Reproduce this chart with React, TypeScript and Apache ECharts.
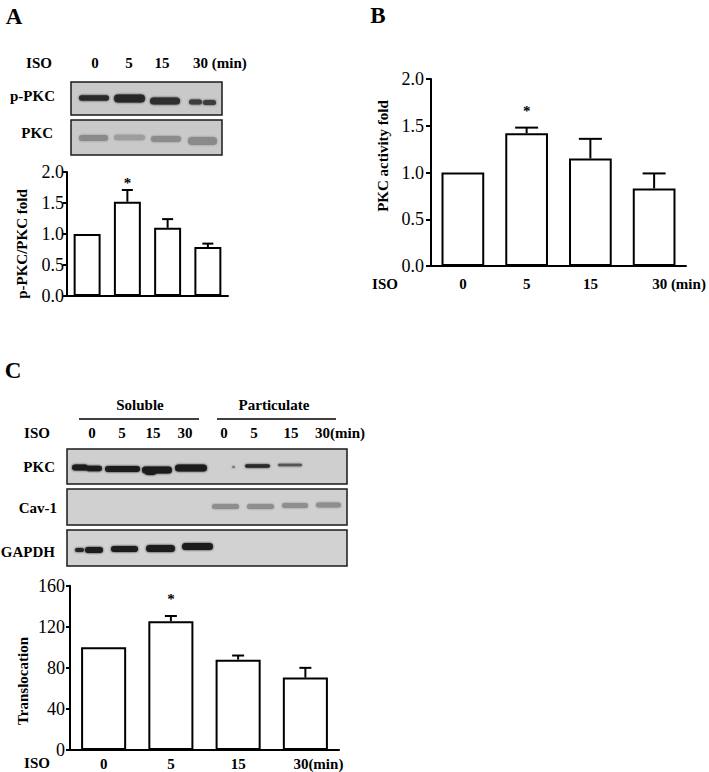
import React, { useEffect, useRef } from "react";
import * as echarts from "echarts";

// ---------- data ----------
const timeCategories = ["0", "5", "15", "30"];
const unitSuffix = "(min)";
const isoLabel = "ISO";

const pPkcRatioMean = [1.0, 1.52, 1.1, 0.79];
const pPkcRatioSem = [0, 0.19, 0.14, 0.055];

const pkcActivityMean = [1.0, 1.42, 1.15, 0.83];
const pkcActivitySem = [0, 0.06, 0.21, 0.16];

const translocationMean = [100, 125.5, 88, 70.5];
const translocationSem = [0, 5, 4, 9.5];

const significant = [false, true, false, false];

const foldAxis = { min: 0, max: 2, interval: 0.5, decimals: 1 };
const translocationAxis = { min: 0, max: 160, interval: 40, decimals: 0 };

const fractionLabels = ["Soluble", "Particulate"];
const blotRowsA = ["p-PKC", "PKC"];
const blotRowsC = ["PKC", "Cav-1", "GAPDH"];
const yTitles = ["p-PKC/PKC fold", "PKC activity fold", "Translocation"];
const panelLetters = ["A", "B", "C"];

// ---------- styling ----------
const SERIF = "'Liberation Serif', serif";
const boldFont = (s: number) => `bold ${s}px ${SERIF}`;

function txt(text: string, x: number, y: number, size = 15, align = "center", bold = true, rotation = 0) {
  return {
    type: "text",
    x,
    y,
    rotation,
    silent: true,
    style: {
      text,
      x: 0,
      y: 0,
      align,
      verticalAlign: "middle",
      font: bold ? boldFont(size) : `${size}px ${SERIF}`,
      fill: "#000",
    },
  };
}

function box(x: number, y: number, w: number, h: number, fill: string) {
  return {
    type: "rect",
    silent: true,
    shape: { x, y, width: w, height: h },
    style: { fill, stroke: "#1a1a1a", lineWidth: 1.5 },
  };
}

function band(x1: number, x2: number, yc: number, h: number, color: string) {
  return {
    type: "rect",
    silent: true,
    shape: { x: x1, y: yc - h / 2, width: x2 - x1, height: h, r: h / 2 },
    style: { fill: color, shadowBlur: 2, shadowColor: color },
  };
}

function hline(x1: number, x2: number, y: number) {
  return {
    type: "line",
    silent: true,
    shape: { x1, y1: y, x2, y2: y },
    style: { stroke: "#000", lineWidth: 1.5 },
  };
}

function makeErrRenderer(capHalf: number, starGap: number) {
  return (params: any, api: any) => {
    const idx = api.value(0);
    const m = api.value(1);
    const e = api.value(2);
    const s = api.value(3);
    const base = api.coord([idx, m]);
    const top = api.coord([idx, m + e]);
    const ls = { stroke: "#000", lineWidth: 2 };
    const children: any[] = [];
    if (e > 0) {
      children.push({ type: "line", shape: { x1: base[0], y1: base[1], x2: base[0], y2: top[1] }, style: ls });
      children.push({ type: "line", shape: { x1: base[0] - capHalf, y1: top[1], x2: base[0] + capHalf, y2: top[1] }, style: ls });
    }
    if (s) {
      children.push({
        type: "text",
        style: { text: "*", x: base[0], y: top[1] - starGap + 3, align: "center", verticalAlign: "middle", font: boldFont(15), fill: "#000" },
      });
    }
    return { type: "group", children };
  };
}

function yAxisCfg(gridIndex: number, ax: any, margin: number, tickLen: number, fontSize: number) {
  return {
    type: "value",
    gridIndex,
    min: ax.min,
    max: ax.max,
    interval: ax.interval,
    axisLine: { show: true, lineStyle: { color: "#000", width: 2 } },
    axisTick: { show: true, length: tickLen, lineStyle: { color: "#000", width: 2 } },
    splitLine: { show: false },
    axisLabel: {
      margin,
      color: "#000",
      fontFamily: "Liberation Serif",
      fontSize,
      formatter: (v: number) => v.toFixed(ax.decimals),
    },
  };
}

function xAxisCfg(gridIndex: number, showLabels: boolean, margin: number, lastLabel: string, lastPad: number) {
  const last = timeCategories.length - 1;
  return {
    type: "category",
    gridIndex,
    data: timeCategories.map((c, i) =>
      i === last && showLabels
        ? { value: c, textStyle: { align: "left", padding: [0, 0, 0, lastPad] } }
        : c
    ),
    axisLine: { show: true, lineStyle: { color: "#000", width: 2 } },
    axisTick: { show: false },
    axisLabel: {
      show: showLabels,
      interval: 0,
      margin,
      color: "#000",
      fontFamily: "Liberation Serif",
      fontWeight: "bold",
      fontSize: 15,
      formatter: (v: string, i: number) => (i === last ? v + lastLabel : v),
    },
  };
}

function barSeries(i: number, data: number[]) {
  return {
    type: "bar",
    xAxisIndex: i,
    yAxisIndex: i,
    data,
    barWidth: "67%",
    silent: true,
    itemStyle: { color: "#fff", borderColor: "#000", borderWidth: 2 },
  };
}

function errSeries(i: number, mean: number[], sem: number[], capHalf: number, starGap: number) {
  return {
    type: "custom",
    xAxisIndex: i,
    yAxisIndex: i,
    z: 10,
    silent: true,
    clip: false,
    encode: { x: 0, y: 1 },
    data: mean.map((m, j) => [j, m, sem[j], significant[j] ? 1 : 0]),
    renderItem: makeErrRenderer(capHalf, starGap),
  };
}

function buildGraphics() {
  const g: any[] = [];
  // panel letters
  g.push(txt(panelLetters[0], 14, 16, 23));
  g.push(txt(panelLetters[1], 378, 15, 23));
  g.push(txt(panelLetters[2], 13, 370, 23));

  // ---- Panel A blot ----
  g.push(txt(isoLabel, 39, 63));
  const laneA = [95, 129, 162];
  laneA.forEach((x, i) => g.push(txt(timeCategories[i], x, 63)));
  g.push(txt(timeCategories[3] + " " + unitSuffix, 193, 63, 15, "left"));
  g.push(txt(blotRowsA[0], 55, 96, 15, "right"));
  g.push(txt(blotRowsA[1], 53, 133, 15, "right"));
  g.push(box(71, 82, 151, 33, "#c9c9c9"));
  g.push(box(71, 120, 151, 35, "#c9c9c9"));
  g.push(band(79, 109, 98, 5.5, "#2b2b2b"));
  g.push(band(114, 145, 98.5, 8, "#262626"));
  g.push(band(150, 180, 101, 7, "#2e2e2e"));
  g.push(band(189, 202, 102, 5, "#3c3c3c"));
  g.push(band(203, 216, 102.5, 5, "#3c3c3c"));
  g.push(band(79, 108, 138, 6, "#8a8a8a"));
  g.push(band(114, 145, 137.5, 5.5, "#9d9d9d"));
  g.push(band(151, 181, 139, 6, "#8c8c8c"));
  g.push(band(188, 217, 141, 8, "#8a8a8a"));

  // ---- Panel C blot ----
  g.push(txt(fractionLabels[0], 140, 405));
  g.push(hline(79, 199, 419));
  g.push(txt(fractionLabels[1], 274, 405));
  g.push(hline(217, 336, 419));
  g.push(txt(isoLabel, 37, 433));
  const laneC = [92, 122, 153, 185, 224, 254, 291];
  laneC.forEach((x, i) => g.push(txt(timeCategories[i % 4], x, 433)));
  g.push(txt(timeCategories[3] + unitSuffix, 315, 433, 15, "left"));
  g.push(txt(blotRowsC[0], 55, 467, 15, "right"));
  g.push(txt(blotRowsC[1], 57, 508, 15, "right"));
  g.push(txt(blotRowsC[2], 55, 552, 15, "right"));
  g.push(box(67, 449, 280, 35, "#cfcfcf"));
  g.push(box(67, 489, 280, 36, "#d0d0d0"));
  g.push(box(67, 530, 280, 36, "#d2d2d2"));
  // PKC row
  g.push(band(72, 88, 467.5, 6, "#1c1c1c"));
  g.push(band(86, 102, 468.5, 5.5, "#1c1c1c"));
  g.push(band(105, 140, 469, 6, "#1c1c1c"));
  g.push(band(142, 172, 470, 7, "#1c1c1c"));
  g.push(band(145, 156, 472, 6, "#1c1c1c"));
  g.push(band(175, 207, 468, 7, "#1c1c1c"));
  g.push(band(232, 235, 467, 2, "#7a7a7a"));
  g.push(band(245, 270, 466, 3.5, "#2a2a2a"));
  g.push(band(278, 302, 465, 2.5, "#555555"));
  // Cav-1 row
  g.push(band(212, 239, 506.5, 5, "#8e8e8e"));
  g.push(band(247, 274, 506.5, 5, "#8e8e8e"));
  g.push(band(282, 308, 505.5, 5, "#8e8e8e"));
  g.push(band(316, 341, 505, 5, "#8e8e8e"));
  // GAPDH row
  g.push(band(75, 84, 550, 4, "#262626"));
  g.push(band(85, 103, 550, 6, "#1e1e1e"));
  g.push(band(111, 138, 549, 6, "#1e1e1e"));
  g.push(band(146, 175, 548.5, 7, "#1e1e1e"));
  g.push(band(182, 213, 546.5, 7, "#1a1a1a"));

  // ---- x-row labels ----
  g.push(txt(isoLabel, 385, 284));
  g.push(txt(isoLabel, 37, 763));

  // ---- y titles ----
  g.push(txt(yTitles[0], 22, 244, 15, "center", true, Math.PI / 2));
  g.push(txt(yTitles[1], 383, 156, 15, "center", true, Math.PI / 2));
  g.push(txt(yTitles[2], 23, 681, 15, "center", true, Math.PI / 2));
  return g;
}

export default function App() {
  const ref = useRef<HTMLDivElement>(null);
  useEffect(() => {
    if (!ref.current) return;
    const chart = echarts.init(ref.current, undefined, { renderer: "svg" });
    chart.setOption({
      animation: false,
      backgroundColor: "#fff",
      grid: [
        { left: 67, top: 172, width: 161, height: 124 },
        { left: 431, top: 79, width: 255, height: 187 },
        { left: 70, top: 585.7, width: 269, height: 164.3 },
      ],
      xAxis: [
        xAxisCfg(0, false, 8, "", 0),
        xAxisCfg(1, true, 10, " " + unitSuffix, -2),
        xAxisCfg(2, true, 6, unitSuffix, -12),
      ],
      yAxis: [
        yAxisCfg(0, foldAxis, 3, 4, 18),
        yAxisCfg(1, foldAxis, 7, 5, 18),
        yAxisCfg(2, translocationAxis, 5, 4, 18),
      ],
      series: [
        barSeries(0, pPkcRatioMean),
        errSeries(0, pPkcRatioMean, pPkcRatioSem, 5.5, 10),
        barSeries(1, pkcActivityMean),
        errSeries(1, pkcActivityMean, pkcActivitySem, 11.5, 20),
        barSeries(2, translocationMean),
        errSeries(2, translocationMean, translocationSem, 6, 20),
      ],
      graphic: buildGraphics(),
    });
    return () => chart.dispose();
  }, []);
  return (
    <div
      ref={ref}
      style={{ position: "absolute", left: 0, top: 0, width: 709, height: 772, background: "#fff" }}
    />
  );
}
